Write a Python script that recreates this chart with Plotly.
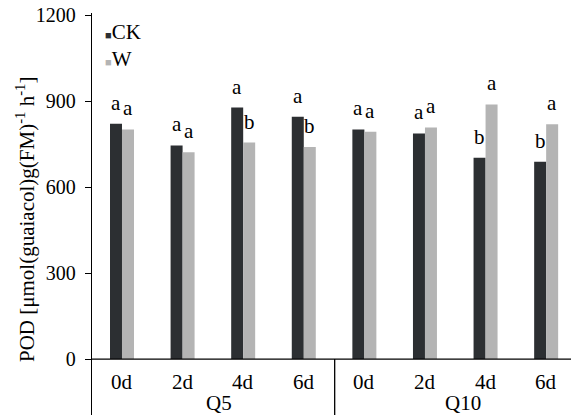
import plotly.graph_objects as go

days = ["0d", "2d", "4d", "6d", "0d", "2d", "4d", "6d"]
groups = ["Q5", "Q10"]
ck = [821, 745, 877, 845, 801, 787, 702, 688]
w = [801, 721, 755, 740, 793, 808, 888, 819]
ck_letters = ["a", "a", "a", "a", "a", "a", "b", "b"]
w_letters = ["a", "a", "b", "b", "a", "a", "a", "a"]
yticks = [0, 300, 600, 900, 1200]

CK_COLOR = "#2c2f32"
W_COLOR = "#b4b4b4"
FONT = "Liberation Serif"

x = list(range(len(days)))
fig = go.Figure()
fig.add_trace(go.Bar(x=x, y=ck, name="CK", marker=dict(color=CK_COLOR, line=dict(width=0)), showlegend=False))
fig.add_trace(go.Bar(x=x, y=w, name="W", marker=dict(color=W_COLOR, line=dict(width=0)), showlegend=False))

half = 0.099
ann = []
for i in x:
    ann.append(dict(x=i - half, y=ck[i], text=ck_letters[i], showarrow=False, yanchor="bottom", yshift=7,
                    font=dict(family=FONT, size=21, color="black")))
    ann.append(dict(x=i + half, y=w[i], text=w_letters[i], showarrow=False, yanchor="bottom", yshift=7,
                    font=dict(family=FONT, size=21, color="black")))
    ann.append(dict(x=i, y=-80, text=days[i], showarrow=False, yanchor="middle",
                    font=dict(family=FONT, size=21, color="black")))
ann.append(dict(x=1.6, y=-153, text=groups[0], showarrow=False, yanchor="middle",
                font=dict(family=FONT, size=21, color="black")))
ann.append(dict(x=5.63, y=-153, text=groups[1], showarrow=False, yanchor="middle",
                font=dict(family=FONT, size=21, color="black")))
# legend
ann.append(dict(xref="paper", yref="paper", x=0.024, y=0.953, xanchor="left", yanchor="middle", showarrow=False,
                text=f"<span style='color:{CK_COLOR};font-size:11px'>■</span>CK",
                font=dict(family=FONT, size=21, color="black")))
ann.append(dict(xref="paper", yref="paper", x=0.024, y=0.886, xanchor="left", yanchor="middle", showarrow=False,
                text=f"<span style='color:{W_COLOR};font-size:11px'>■</span>W",
                font=dict(family=FONT, size=21, color="black")))
# y-axis title
ann.append(dict(xref="paper", yref="paper", x=-0.1378, y=0.4876, xanchor="center", yanchor="middle",
                showarrow=False, textangle=-90,
                text="POD [μmol(guaiacol)g(FM)<sup>-1</sup> h<sup>-1</sup>]",
                font=dict(family=FONT, size=21, color="black")))

shapes = [
    dict(type="line", xref="paper", yref="y", x0=0, x1=1, y0=0, y1=0, line=dict(color="black", width=1.3)),
    dict(type="line", xref="x", yref="y", x0=3.51, x1=3.51, y0=-195, y1=0, line=dict(color="black", width=1.3)),
]

fig.update_layout(
    width=571, height=417,
    margin=dict(l=92, r=0, t=13, b=2, autoexpand=False),
    paper_bgcolor="white", plot_bgcolor="white",
    barmode="group", bargap=0.604, bargroupgap=0,
    annotations=ann, shapes=shapes,
    font=dict(family=FONT, color="black"),
    xaxis=dict(visible=False, range=[-0.495, 7.41], automargin=False),
    yaxis=dict(range=[-195, 1207], tickvals=yticks, showgrid=False, zeroline=False, automargin=False,
               showline=True, linecolor="black", linewidth=1.3, ticks="outside", ticklen=6,
               ticklabelstandoff=5,
               tickcolor="black", tickfont=dict(family=FONT, size=20, color="black")),
)

fig.write_html("out.html", config={"displayModeBar": False},
               post_script="document.body.style.margin='0px';document.body.style.overflow='hidden';")
